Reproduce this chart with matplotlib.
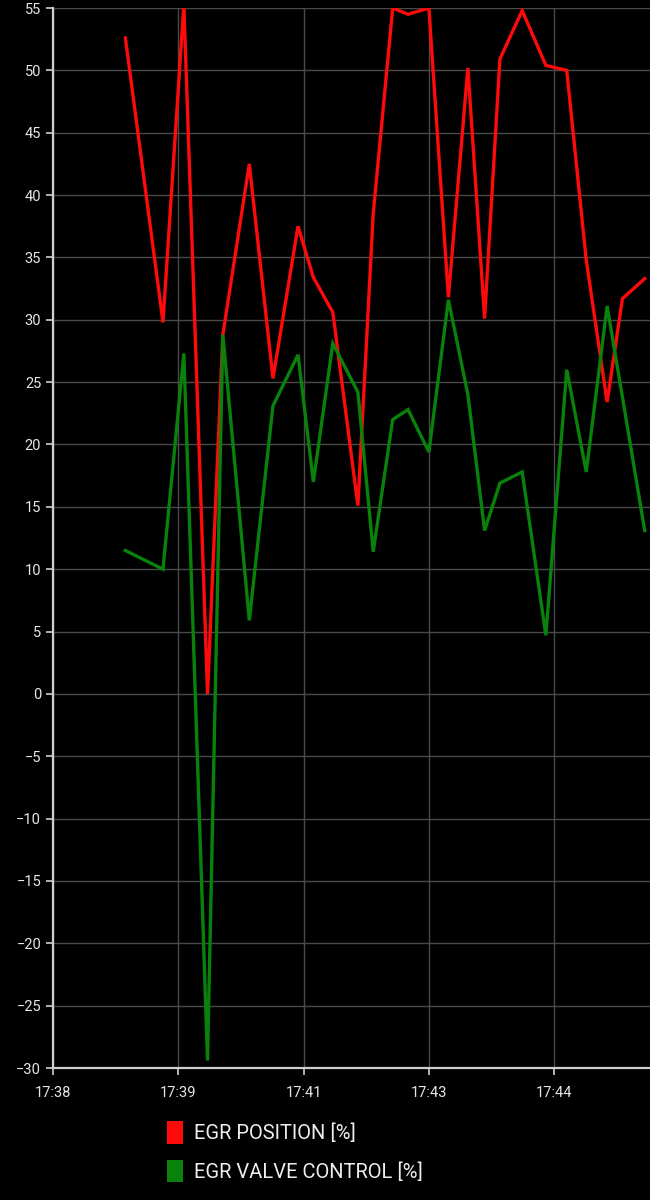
import matplotlib
matplotlib.use('Agg')
import matplotlib.pyplot as plt
from matplotlib.patches import Patch

# time stamps (seconds after 17:38:00)
times = ['17:38:52', '17:39:19', '17:39:34', '17:39:51', '17:40:02', '17:40:21',
         '17:40:38', '17:40:56', '17:41:07', '17:41:21', '17:41:39', '17:41:50',
         '17:42:04', '17:42:15', '17:42:30', '17:42:44', '17:42:58', '17:43:10',
         '17:43:21', '17:43:37', '17:43:54', '17:44:09', '17:44:23', '17:44:38',
         '17:44:49', '17:45:05']

egr_position = [52.6, 29.8, 55.3, 0.0, 28.8, 42.5, 25.3, 37.5, 33.4, 30.6,
                15.1, 38.5, 55.0, 54.5, 55.0, 31.8, 50.2, 30.1, 50.9, 54.8,
                50.4, 50.0, 34.8, 23.4, 31.7, 33.3]

egr_valve_control = [11.5, 10.0, 27.3, -29.4, 28.8, 5.9, 23.1, 27.2, 17.0, 28.1,
                     24.2, 11.4, 22.0, 22.8, 19.4, 31.6, 24.0, 13.1, 16.9, 17.8,
                     4.7, 26.0, 17.8, 31.1, 23.8, 13.1]

tick_secs = [0, 90, 180, 270, 360]
tick_labels = ['17:38', '17:39', '17:41', '17:43', '17:44']
y_ticks = list(range(-30, 56, 5))


def to_secs(t):
    h, m, s = [int(p) for p in t.split(':')]
    return (h * 3600 + m * 60 + s) - (17 * 3600 + 38 * 60)


x = [to_secs(t) for t in times]

plt.rcParams['font.family'] = ['Roboto', 'DejaVu Sans']

fig = plt.figure(figsize=(6.5, 12), dpi=100, facecolor='black')
ax = fig.add_axes([0.0815, 0.11, 0.9185, 0.8833], facecolor='black')

ax.plot(x, egr_position, color='#ff0a0a', lw=2.4, solid_joinstyle='miter')
ax.plot(x, egr_valve_control, color='#08820a', lw=2.4, solid_joinstyle='miter')

ax.set_xlim(0, 428.8)
ax.set_ylim(-30, 55)
ax.set_yticks(y_ticks)
ax.set_xticks(tick_secs)
ax.set_xticklabels(tick_labels)

ax.grid(True, color='#4a4a4a', lw=1)
ax.set_axisbelow(True)
for side in ['top', 'right']:
    ax.spines[side].set_visible(False)
for side in ['left', 'bottom']:
    ax.spines[side].set_color('#cfcfcf')
    ax.spines[side].set_linewidth(1.6)
ax.tick_params(colors='#cfcfcf', labelcolor='#e6e6e6', labelsize=10.5,
               length=5, width=1.2)
ax.tick_params(axis='x', pad=8)

handles = [Patch(facecolor='#ff0a0a', edgecolor='none', label='EGR POSITION [%]'),
           Patch(facecolor='#08820a', edgecolor='none', label='EGR VALVE CONTROL [%]')]
fig.legend(handles=handles, loc='upper left', bbox_to_anchor=(0.229, 0.081),
           frameon=False, labelcolor='#eeeeee', fontsize=14.5,
           handlelength=0.8, handleheight=1.35, handletextpad=0.55,
           labelspacing=0.8)

plt.savefig('out.png', facecolor='black')
